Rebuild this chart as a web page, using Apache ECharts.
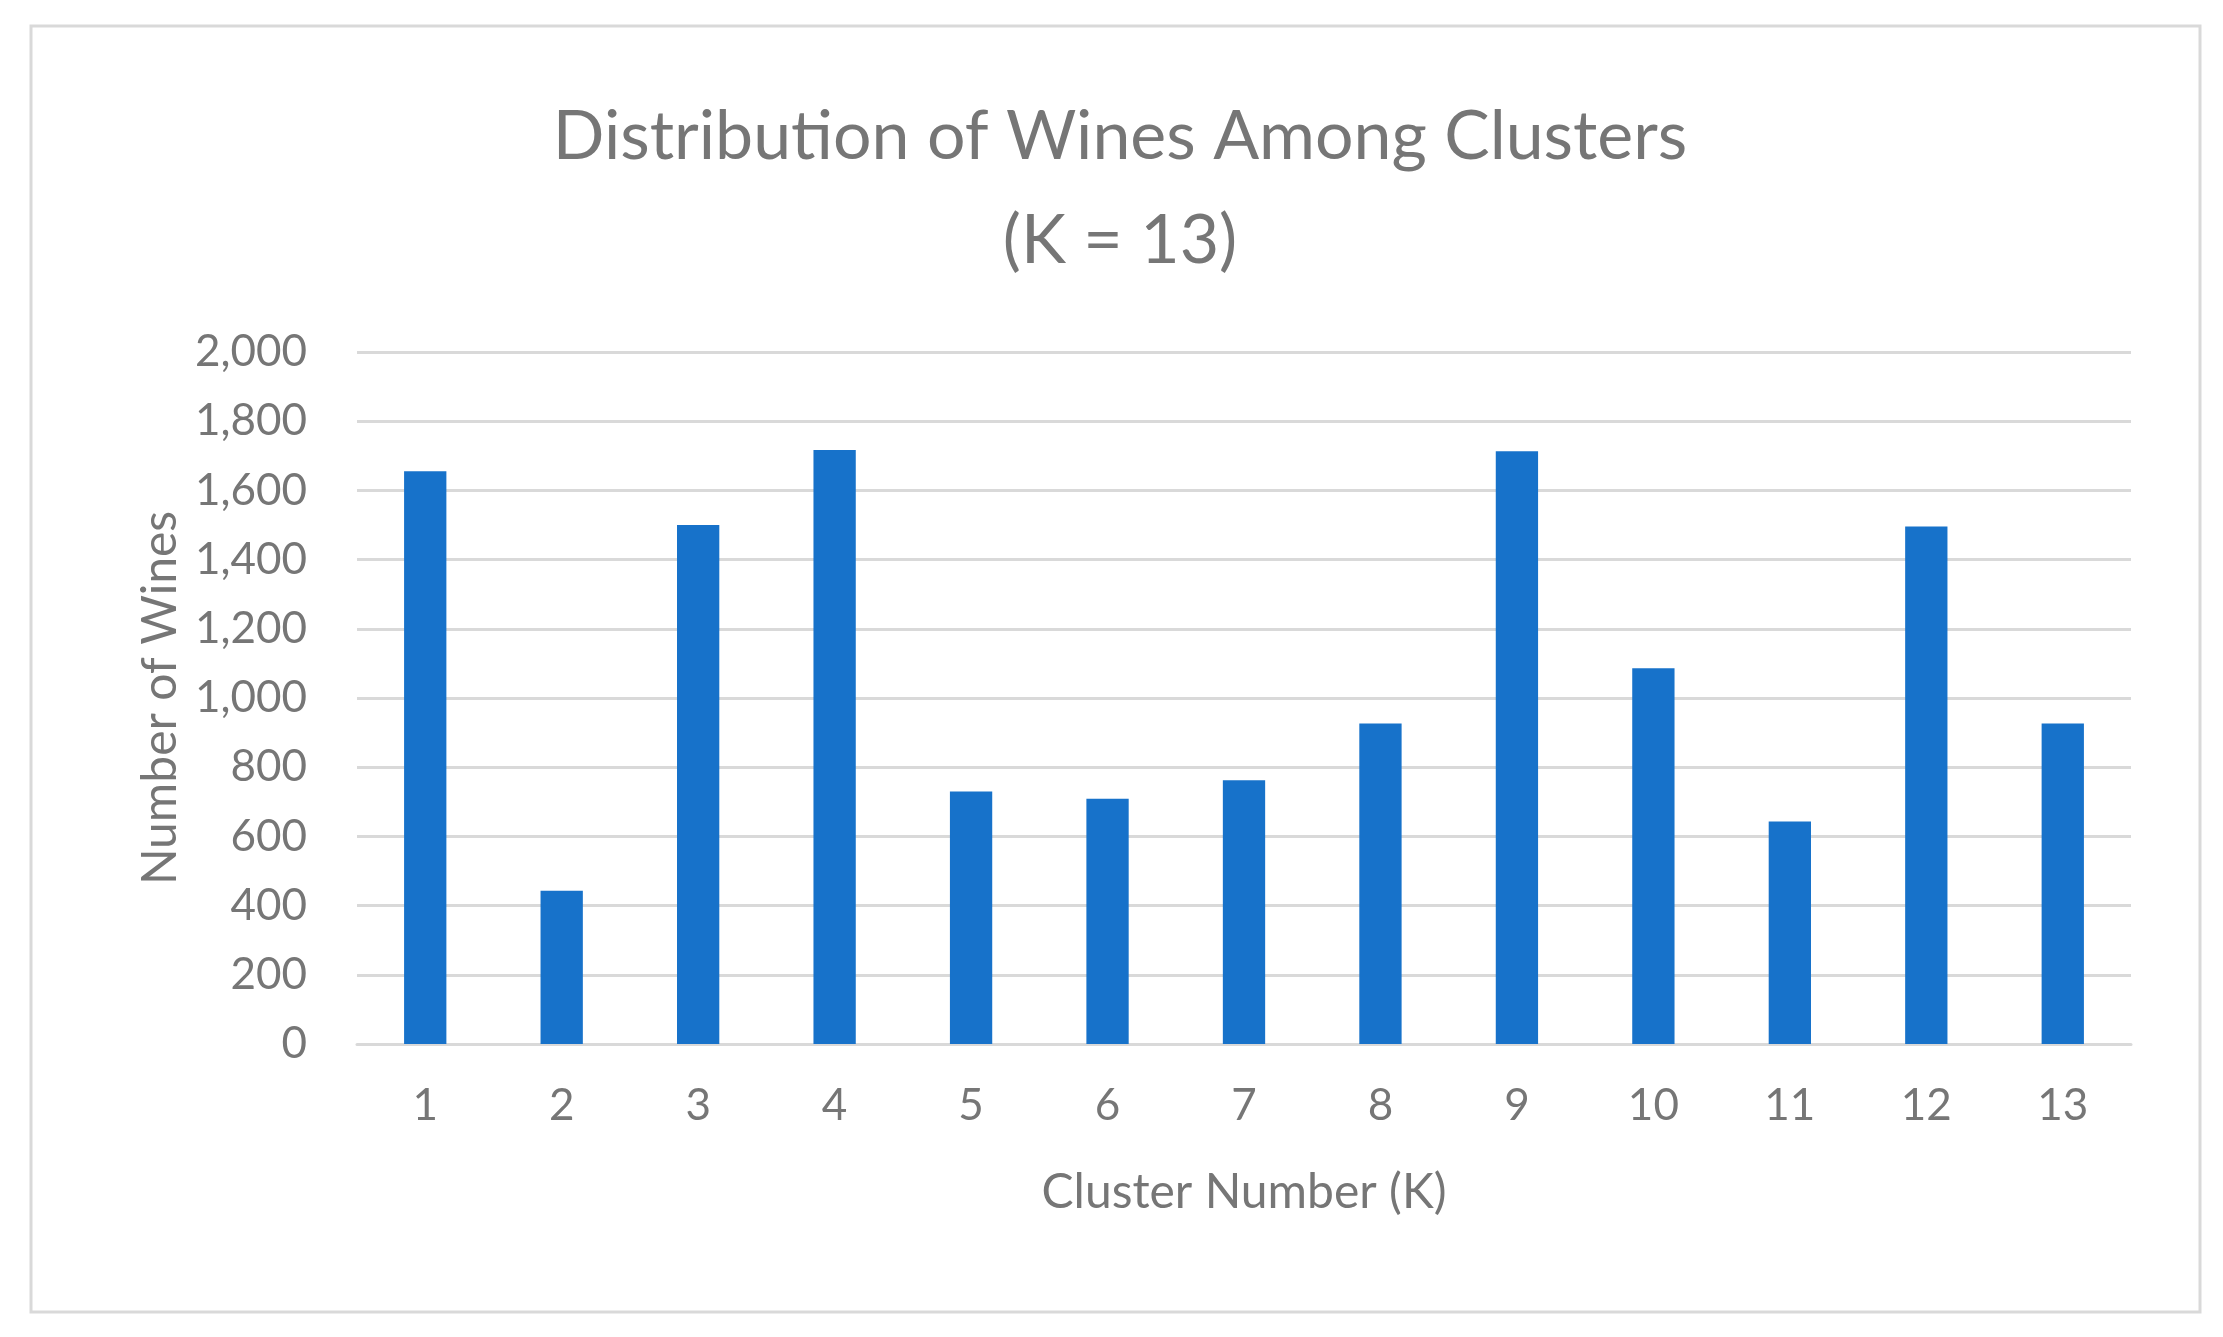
<!DOCTYPE html>
<html>
<head>
<meta charset="utf-8">
<script src="https://cdn.jsdelivr.net/npm/echarts@6/dist/echarts.min.js"></script>
<style>html,body{margin:0;padding:0;background:#fff}#chart{width:2223px;height:1337px}</style>
</head>
<body>
<div id="chart"></div>
<script>
// 数据
var clusters = ['1','2','3','4','5','6','7','8','9','10','11','12','13'];
var wines = [1655, 443, 1500, 1717, 730, 709, 762, 926, 1713, 1086, 643, 1496, 926];

var myChart = echarts.init(document.getElementById('chart'));
var gray = '#767676';
var font = 'Lato';

var option = {
    backgroundColor: '#fff',
    animation: false,
    title: {
        text: 'Distribution of Wines Among Clusters\n(K = 13)',
        left: 'center',
        left: 1115,
        textAlign: 'center',
        top: 80,
        textStyle: {color: gray, fontSize: 68, fontWeight: 'normal', fontFamily: font, lineHeight: 104}
    },
    graphic: [{
        type: 'rect',
        shape: {x: 31, y: 26, width: 2169, height: 1286},
        style: {fill: null, stroke: '#d9d9d9', lineWidth: 3}
    }],
    grid: {left: 357, right: 92, top: 352, bottom: 293},
    xAxis: {
        type: 'category',
        data: clusters,
        name: 'Cluster Number (K)',
        nameLocation: 'middle',
        nameGap: 125,
        nameTextStyle: {color: gray, fontSize: 48, fontFamily: font},
        axisTick: {show: false},
        axisLine: {lineStyle: {color: '#d9d9d9', width: 3}},
        axisLabel: {color: gray, fontSize: 44, fontFamily: font, margin: 40}
    },
    yAxis: {
        type: 'value',
        min: 0, max: 2000, interval: 200,
        name: 'Number of Wines',
        nameLocation: 'middle',
        nameGap: 150,
        nameTextStyle: {color: gray, fontSize: 48, fontFamily: font},
        axisLabel: {color: gray, fontSize: 44, fontFamily: font, margin: 50},
        splitLine: {lineStyle: {color: '#d9d9d9', width: 3}}
    },
    series: [{
        type: 'bar',
        data: wines,
        barWidth: '31%',
        itemStyle: {color: '#1772CA'}
    }]
};

myChart.setOption(option);
</script>
</body>
</html>
